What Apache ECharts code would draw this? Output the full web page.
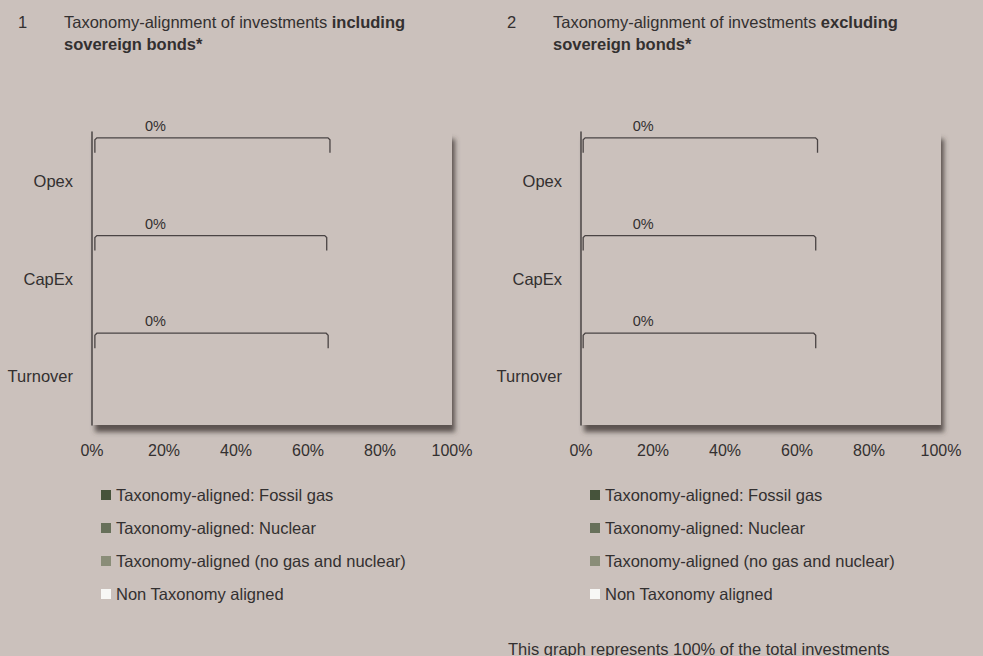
<!DOCTYPE html>
<html>
<head>
<meta charset="utf-8">
<script src="https://cdn.jsdelivr.net/npm/echarts@6/dist/echarts.min.js"></script>
<style>
html, body { margin: 0; padding: 0; background: #cbc1bc; }
#chart { width: 983px; height: 656px; }
</style>
</head>
<body>
<div id="chart"></div>
<script>
// ---- Data ----
const categories = ['Turnover', 'CapEx', 'Opex'];
const seriesNames = [
  'Taxonomy-aligned: Fossil gas',
  'Taxonomy-aligned: Nuclear',
  'Taxonomy-aligned (no gas and nuclear)',
  'Non Taxonomy aligned'
];
const seriesColors = ['#46533b', '#67705a', '#8a8d78', '#f7f7f5'];

// Chart 1: including sovereign bonds
const fossilGas1 = [0, 0, 0];
const nuclear1 = [0, 0, 0];
const noGasNuclear1 = [0, 0, 0];
const nonAligned1 = [0, 0, 0];
const bracketStart1 = [0.8, 0.8, 0.8];
const bracketEnd1 = [65.6, 65.2, 66.1];
const bracketLabelAt1 = [17.6, 17.6, 17.6];
const bracketLabel1 = ['0%', '0%', '0%'];

// Chart 2: excluding sovereign bonds
const fossilGas2 = [0, 0, 0];
const nuclear2 = [0, 0, 0];
const noGasNuclear2 = [0, 0, 0];
const nonAligned2 = [0, 0, 0];
const bracketStart2 = [0.6, 0.6, 0.6];
const bracketEnd2 = [65.2, 65.2, 65.7];
const bracketLabelAt2 = [17.3, 17.3, 17.3];
const bracketLabel2 = ['0%', '0%', '0%'];

const xMin = 0, xMax = 100, xInterval = 20;

const titleNums = ['1', '2'];
const titleMain = ['Taxonomy-alignment of investments ', 'Taxonomy-alignment of investments '];
const titleBold1 = ['including', 'excluding'];
const titleBold2 = ['sovereign bonds*', 'sovereign bonds*'];
const footer = 'This graph represents 100% of the total investments';

// ---- Build ----
const FONT = '"Liberation Sans", Arial, sans-serif';
const TXT = '#333030';
const chart = echarts.init(document.getElementById('chart'), null, { renderer: 'svg' });

function makeBracket(labels) {
  return function (params, api) {
    const i = params.dataIndex;
    const cat = api.value(2);
    const p0 = api.coord([api.value(0), cat]);
    const p1 = api.coord([api.value(1), cat]);
    const pl = api.coord([api.value(3), cat]);
    const band = api.size([0, 1])[1];
    const y = p0[1] - band * 0.44;
    const tick = 15;
    return {
      type: 'group',
      children: [
        {
          type: 'polyline',
          shape: { points: [[p0[0], y + tick], [p0[0], y + 2], [p0[0] + 2, y], [p1[0] - 2, y], [p1[0], y + 2], [p1[0], y + tick]] },
          style: { stroke: '#4a4444', fill: null, lineWidth: 1.3 }
        },
        {
          type: 'text',
          style: { text: labels[i], x: pl[0], y: y - 12, align: 'center', verticalAlign: 'middle',
                   fontSize: 14.5, fontFamily: FONT, fill: TXT }
        }
      ]
    };
  };
}

function bracketData(starts, ends, labelAt) {
  return categories.map((c, i) => [starts[i], ends[i], i, labelAt[i]]);
}

const gridCommon = {
  top: 132, bottom: 231, show: true, backgroundColor: '#cbc1bc', borderWidth: 0,
  shadowBlur: 5, shadowColor: 'rgba(70,64,60,0.85)', shadowOffsetX: 3, shadowOffsetY: 7
};

function xAxisDef(gi) {
  return {
    type: 'value', gridIndex: gi, min: xMin, max: xMax, interval: xInterval,
    axisLine: { show: false }, axisTick: { show: false }, splitLine: { show: false },
    axisLabel: { formatter: '{value}%', fontSize: 16, fontFamily: FONT, color: TXT, margin: 17 }
  };
}
function yAxisDef(gi) {
  return {
    type: 'category', gridIndex: gi, data: categories,
    axisLine: { show: true, lineStyle: { color: '#4a4444', width: 1.5 } },
    axisTick: { show: false }, splitLine: { show: false },
    axisLabel: { fontSize: 16.5, fontFamily: FONT, color: TXT, margin: 19 }
  };
}

function barSeries(gi, arrays) {
  return arrays.map((arr, k) => ({
    type: 'bar', name: seriesNames[k], stack: 's' + gi, xAxisIndex: gi, yAxisIndex: gi,
    data: arr, barWidth: '40%', itemStyle: { color: seriesColors[k] }
  }));
}

function legendDef(left) {
  return {
    orient: 'vertical', left: left, top: 481, itemWidth: 10, itemHeight: 10, itemGap: 15,
    icon: 'rect', data: seriesNames, selectedMode: false,
    textStyle: { fontSize: 16.5, fontFamily: FONT, color: TXT, lineHeight: 18 }
  };
}

function titleDefs(k, left) {
  return [
    { text: titleNums[k], left: left, top: 6, textStyle: { fontSize: 16.5, fontWeight: 'normal', fontFamily: FONT, color: TXT, lineHeight: 22 } },
    {
      text: '{r|' + titleMain[k] + '}{b|' + titleBold1[k] + '}\n{b|' + titleBold2[k] + '}',
      left: left + 46, top: 6,
      textStyle: {
        rich: {
          r: { fontSize: 16.5, fontWeight: 'normal', fontFamily: FONT, color: TXT, lineHeight: 22 },
          b: { fontSize: 16.5, fontWeight: 'bold', fontFamily: FONT, color: TXT, lineHeight: 22 }
        }
      }
    }
  ];
}

const option = {
  backgroundColor: '#cbc1bc',
  animation: false,
  title: [].concat(titleDefs(0, 13), titleDefs(1, 502), [
    { text: footer, left: 503, top: 635, textStyle: { fontSize: 16.5, fontWeight: 'normal', fontFamily: FONT, color: TXT } }
  ]),
  legend: [legendDef(96), legendDef(585)],
  grid: [
    Object.assign({ left: 92, right: 531 }, gridCommon),
    Object.assign({ left: 581, right: 42 }, gridCommon)
  ],
  xAxis: [xAxisDef(0), xAxisDef(1)],
  yAxis: [yAxisDef(0), yAxisDef(1)],
  series: [].concat(
    barSeries(0, [fossilGas1, nuclear1, noGasNuclear1, nonAligned1]),
    barSeries(1, [fossilGas2, nuclear2, noGasNuclear2, nonAligned2]),
    [
      { type: 'custom', xAxisIndex: 0, yAxisIndex: 0, z: 5, silent: true,
        encode: { x: [0, 1, 3], y: 2 },
        renderItem: makeBracket(bracketLabel1),
        data: bracketData(bracketStart1, bracketEnd1, bracketLabelAt1) },
      { type: 'custom', xAxisIndex: 1, yAxisIndex: 1, z: 5, silent: true,
        encode: { x: [0, 1, 3], y: 2 },
        renderItem: makeBracket(bracketLabel2),
        data: bracketData(bracketStart2, bracketEnd2, bracketLabelAt2) }
    ]
  )
};
chart.setOption(option);
</script>
</body>
</html>
